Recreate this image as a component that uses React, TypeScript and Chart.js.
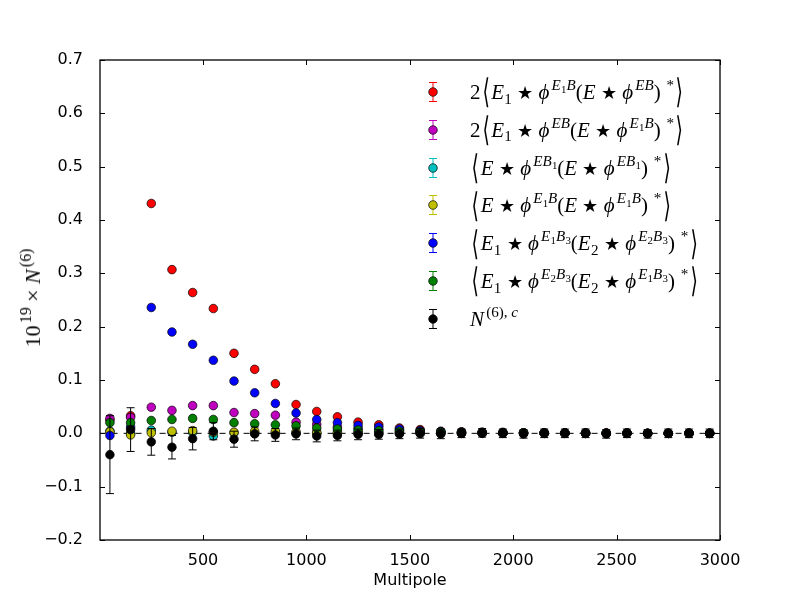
import { useEffect, useRef } from 'react';
import type { ReactNode } from 'react';
import Chart from 'chart.js/auto';

// multipole bin centres
const MULTIPOLE = [
  50, 150, 250, 350, 450, 550, 650, 750, 850, 950,
  1050, 1150, 1250, 1350, 1450, 1550, 1650, 1750, 1850, 1950,
  2050, 2150, 2250, 2350, 2450, 2550, 2650, 2750, 2850, 2950
];

const RED_E1B_EB = [
  0.025, 0.033, 0.431, 0.307, 0.264, 0.234, 0.150, 0.120, 0.093, 0.054,
  0.041, 0.031, 0.021, 0.016, 0.010, 0.007, 0.004, 0.003, 0.002, 0.002,
  0.001, 0.001, 0.001, 0.001, 0.001, 0.001, 0.0, 0.0, 0.0, 0.0
];
const MAG_EB_E1B = [
  0.028, 0.030, 0.049, 0.043, 0.052, 0.052, 0.039, 0.037, 0.034, 0.021,
  0.017, 0.012, 0.009, 0.007, 0.005, 0.004, 0.003, 0.002, 0.002, 0.001,
  0.001, 0.001, 0.001, 0.001, 0.0, 0.0, 0.0, 0.0, 0.0, 0.0
];
const CYAN_EB1 = [
  0.004, 0.0, 0.006, 0.002, 0.002, -0.005, 0.001, 0.0, 0.001, 0.0,
  0.0, 0.0, 0.0, 0.0, 0.0, 0.0, 0.0, 0.0, 0.0, 0.0,
  0.0, 0.0, 0.0, 0.0, 0.0, 0.0, 0.0, 0.0, 0.0, 0.0
];
const YEL_E1B = [
  0.003, -0.003, 0.001, 0.004, 0.005, 0.002, 0.002, 0.004, 0.004, 0.003,
  0.002, 0.002, 0.001, 0.001, 0.001, 0.0, 0.0, 0.0, 0.0, 0.0,
  0.0, 0.0, 0.0, 0.0, 0.0, 0.0, 0.0, 0.0, 0.0, 0.0
];
const BLUE_E1B3_E2B3 = [
  -0.004, 0.012, 0.236, 0.190, 0.167, 0.137, 0.098, 0.076, 0.056, 0.038,
  0.026, 0.020, 0.015, 0.012, 0.008, 0.005, 0.003, 0.002, 0.001, 0.001,
  0.001, 0.001, 0.0, 0.0, 0.0, 0.0, 0.0, 0.0, 0.0, 0.0
];
const GREEN_E2B3_E1B3 = [
  0.020, 0.020, 0.024, 0.026, 0.028, 0.026, 0.020, 0.018, 0.016, 0.014,
  0.010, 0.008, 0.006, 0.005, 0.004, 0.003, 0.002, 0.001, 0.001, 0.001,
  0.001, 0.0, 0.0, 0.0, 0.0, 0.0, 0.0, 0.0, 0.0, 0.0
];
const BLACK_N6C = [
  -0.040, 0.007, -0.016, -0.026, -0.010, 0.004, -0.011, -0.001, -0.003, -0.001,
  -0.005, -0.004, -0.002, -0.002, -0.001, 0.0, -0.001, 0.0, 0.001, 0.0,
  -0.001, 0.0, 0.0, 0.0, -0.001, 0.0, -0.001, 0.0, 0.0, 0.0
];
const BLACK_N6C_ERR = [
  0.073, 0.041, 0.025, 0.022, 0.021, 0.016, 0.015, 0.013, 0.012, 0.011,
  0.011, 0.010, 0.010, 0.009, 0.009, 0.009, 0.009, 0.008, 0.008, 0.008,
  0.008, 0.008, 0.008, 0.008, 0.008, 0.008, 0.008, 0.008, 0.008, 0.008
];

const SERIES_VALUES = [RED_E1B_EB, MAG_EB_E1B, CYAN_EB1, YEL_E1B, BLUE_E1B3_E2B3, GREEN_E2B3_E1B3, BLACK_N6C];
const SERIES_ERRORS = [null, null, null, null, null, null, BLACK_N6C_ERR];
const SERIES_COLORS = ['#ff0000', '#bf00bf', '#00bfbf', '#bfbf00', '#0000ff', '#008000', '#000000'];
const SERIES_LABELS = [
  '2⟨E_1★ϕ^{E_1B}(E★ϕ^{EB})^{ *}⟩',
  '2⟨E_1★ϕ^{EB}(E★ϕ^{E_1B})^{ *}⟩',
  '⟨E★ϕ^{EB_1}(E★ϕ^{EB_1})^{ *}⟩',
  '⟨E★ϕ^{E_1B}(E★ϕ^{E_1B})^{ *}⟩',
  '⟨E_1★ϕ^{E_1B_3}(E_2★ϕ^{E_2B_3})^{ *}⟩',
  '⟨E_1★ϕ^{E_2B_3}(E_2★ϕ^{E_1B_3})^{ *}⟩',
  'N^{(6), c}'
];

const ZERO_X = [0, 3000];
const ZERO_Y = [0, 0];

const X_MIN = 2;
const X_MAX = 3000;
const Y_MIN = -0.2;
const Y_MAX = 0.7;
const X_TICKS = [500, 1000, 1500, 2000, 2500, 3000];
const Y_TICKS = [-0.2, -0.1, 0.0, 0.1, 0.2, 0.3, 0.4, 0.5, 0.6, 0.7];

const X_LABEL = 'Multipole';
const Y_LABEL = '10^{19} × N^{(6)}';

// tiny mathtext: _x / ^{..} to sub/sup, letters in italics
function renderMath(s: string): ReactNode[] {
  const out: ReactNode[] = [];
  let i = 0;
  let k = 0;
  const group = () => {
    if (s[i] === '{') {
      let depth = 1;
      let j = i + 1;
      while (depth > 0 && j < s.length) {
        if (s[j] === '{') depth++;
        else if (s[j] === '}') depth--;
        j++;
      }
      const g = s.slice(i + 1, j - 1);
      i = j;
      return g;
    }
    const g = s[i];
    i++;
    return g;
  };
  while (i < s.length) {
    const c = s[i];
    if (c === '_' || c === '^') {
      i++;
      const g = group();
      const st = {
        fontSize: '0.72em',
        lineHeight: 0,
        position: 'relative' as const,
        verticalAlign: 'baseline',
        top: c === '_' ? '0.3em' : '-0.6em',
        marginLeft: c === '^' ? '0.14em' : '0.02em'
      };
      out.push(<span key={k++} style={st}>{renderMath(g)}</span>);
    } else if (/[A-Za-zϕ]/.test(c)) {
      out.push(<i key={k++}>{c}</i>);
      i++;
    } else if (c === '⟨' || c === '⟩') {
      out.push(
        <span
          key={k++}
          style={{
            display: 'inline-block',
            lineHeight: 0,
            transform: 'scale(0.9, 1.6)',
            position: 'relative',
            top: '0.02em',
            margin: '0 0.06em',
            fontWeight: 200
          }}
        >
          {c}
        </span>
      );
      i++;
    } else if (c === '★') {
      out.push(<span key={k++} style={{ fontSize: '0.85em', margin: '0 0.3em' }}>{c}</span>);
      i++;
    } else {
      out.push(<span key={k++}>{c}</span>);
      i++;
    }
  }
  return out;
}

const frameAndErrors = {
  id: 'frameAndErrors',
  beforeDatasetDraw(chart: any, args: any) {
    const ds = chart.data.datasets[args.index];
    if (!ds.errors) return;
    const { ctx, scales } = chart;
    const xs = scales.x;
    const ys = scales.y;
    ctx.save();
    ctx.strokeStyle = ds.backgroundColor;
    ctx.lineWidth = 1;
    ds.data.forEach((p: any, i: number) => {
      const e = ds.errors[i];
      const x = xs.getPixelForValue(p.x);
      const y1 = ys.getPixelForValue(p.y - e);
      const y2 = ys.getPixelForValue(p.y + e);
      ctx.beginPath();
      ctx.moveTo(x, y1);
      ctx.lineTo(x, y2);
      ctx.moveTo(x - 4, y1);
      ctx.lineTo(x + 4, y1);
      ctx.moveTo(x - 4, y2);
      ctx.lineTo(x + 4, y2);
      ctx.stroke();
    });
    ctx.restore();
  },
  afterDatasetsDraw(chart: any) {
    const { ctx, chartArea: a, scales } = chart;
    ctx.save();
    ctx.strokeStyle = '#000';
    ctx.lineWidth = 1;
    const t = 5;
    ctx.beginPath();
    X_TICKS.forEach((v) => {
      const x = Math.round(scales.x.getPixelForValue(v)) + 0.5;
      ctx.moveTo(x, a.bottom);
      ctx.lineTo(x, a.bottom - t);
      ctx.moveTo(x, a.top);
      ctx.lineTo(x, a.top + t);
    });
    Y_TICKS.forEach((v) => {
      const y = Math.round(scales.y.getPixelForValue(v)) + 0.5;
      ctx.moveTo(a.left, y);
      ctx.lineTo(a.left + t, y);
      ctx.moveTo(a.right, y);
      ctx.lineTo(a.right - t, y);
    });
    ctx.stroke();
    ctx.lineWidth = 1.3;
    ctx.strokeRect(a.left, a.top, a.right - a.left, a.bottom - a.top);
    ctx.restore();
  }
};

export default function App() {
  const canvasRef = useRef<HTMLCanvasElement | null>(null);

  useEffect(() => {
    if (!canvasRef.current) return;
    const datasets: any[] = SERIES_VALUES.map((vals, si) => ({
      type: 'scatter',
      label: SERIES_LABELS[si],
      data: MULTIPOLE.map((x, i) => ({ x, y: vals[i] })),
      errors: SERIES_ERRORS[si],
      backgroundColor: SERIES_COLORS[si],
      borderColor: '#000',
      borderWidth: 0.7,
      pointRadius: 4.3,
      showLine: false,
      order: 10 - si
    }));
    datasets.push({
      type: 'line',
      label: 'zero',
      data: ZERO_X.map((x, i) => ({ x, y: ZERO_Y[i] })),
      borderColor: '#000',
      borderWidth: 1,
      borderDash: [6, 6],
      pointRadius: 0,
      order: 20
    });

    const chart = new Chart(canvasRef.current, {
      type: 'scatter',
      data: { datasets },
      plugins: [frameAndErrors],
      options: {
        responsive: false,
        animation: false,
        layout: { padding: { top: 60, right: 80, left: 0, bottom: 0 } },
        plugins: {
          legend: { display: false },
          tooltip: { enabled: false }
        },
        scales: {
          x: {
            type: 'linear',
            min: X_MIN,
            max: X_MAX,
            grid: { display: false },
            border: { display: false },
            afterBuildTicks: (s: any) => {
              s.ticks = X_TICKS.map((value) => ({ value }));
            },
            afterFit: (s: any) => {
              s.height = 60;
            },
            ticks: {
              color: '#000',
              padding: 3,
              maxRotation: 0,
              font: { family: 'DejaVu Sans', size: 16 },
              callback: (v: any) => String(v)
            },
            title: {
              display: true,
              text: X_LABEL,
              color: '#000',
              padding: { top: 0, bottom: 10 },
              font: { family: 'DejaVu Sans', size: 16 }
            }
          },
          y: {
            type: 'linear',
            min: Y_MIN,
            max: Y_MAX,
            grid: { display: false },
            border: { display: false },
            afterBuildTicks: (s: any) => {
              s.ticks = Y_TICKS.map((value) => ({ value }));
            },
            afterFit: (s: any) => {
              s.width = 100;
            },
            ticks: {
              color: '#000',
              padding: 9,
              font: { family: 'DejaVu Sans', size: 16 },
              callback: (v: any) => {
                const n = Number(v);
                const s = Math.abs(n) < 1e-9 ? '0.0' : n.toFixed(1);
                return s.replace('-', '\u2212');
              }
            }
          }
        }
      }
    });
    return () => chart.destroy();
  }, []);

  const mathFont = "'Liberation Serif', 'DejaVu Serif', serif";

  return (
    <div style={{ position: 'fixed', left: 0, top: 0, width: 800, height: 600, background: '#fff', overflow: 'hidden' }}>
      <canvas ref={canvasRef} width={800} height={600} style={{ width: 800, height: 600, display: 'block' }} />
      <div
        style={{
          position: 'absolute',
          left: 33,
          top: 298,
          transform: 'translate(-50%, -50%) rotate(-90deg)',
          whiteSpace: 'nowrap',
          fontFamily: mathFont,
          fontSize: 22,
          color: '#000'
        }}
      >
        {renderMath(Y_LABEL)}
      </div>
      {SERIES_LABELS.map((lab, i) => {
        const cy = 92 + i * 37.8;
        return (
          <div key={i}>
            <svg
              width={16}
              height={26}
              style={{ position: 'absolute', left: 433 - 8, top: cy - 13 }}
            >
              <line x1={8} y1={3} x2={8} y2={23} stroke={SERIES_COLORS[i]} strokeWidth={1} />
              <line x1={4} y1={3.5} x2={12} y2={3.5} stroke={SERIES_COLORS[i]} strokeWidth={1} />
              <line x1={4} y1={22.5} x2={12} y2={22.5} stroke={SERIES_COLORS[i]} strokeWidth={1} />
              <circle cx={8} cy={13} r={4.3} fill={SERIES_COLORS[i]} stroke="#000" strokeWidth={0.7} />
            </svg>
            <div
              style={{
                position: 'absolute',
                left: 470,
                top: cy,
                transform: 'translateY(-50%)',
                whiteSpace: 'nowrap',
                fontFamily: mathFont,
                fontSize: 21,
                lineHeight: '22px',
                color: '#000'
              }}
            >
              {renderMath(lab)}
            </div>
          </div>
        );
      })}
    </div>
  );
}
